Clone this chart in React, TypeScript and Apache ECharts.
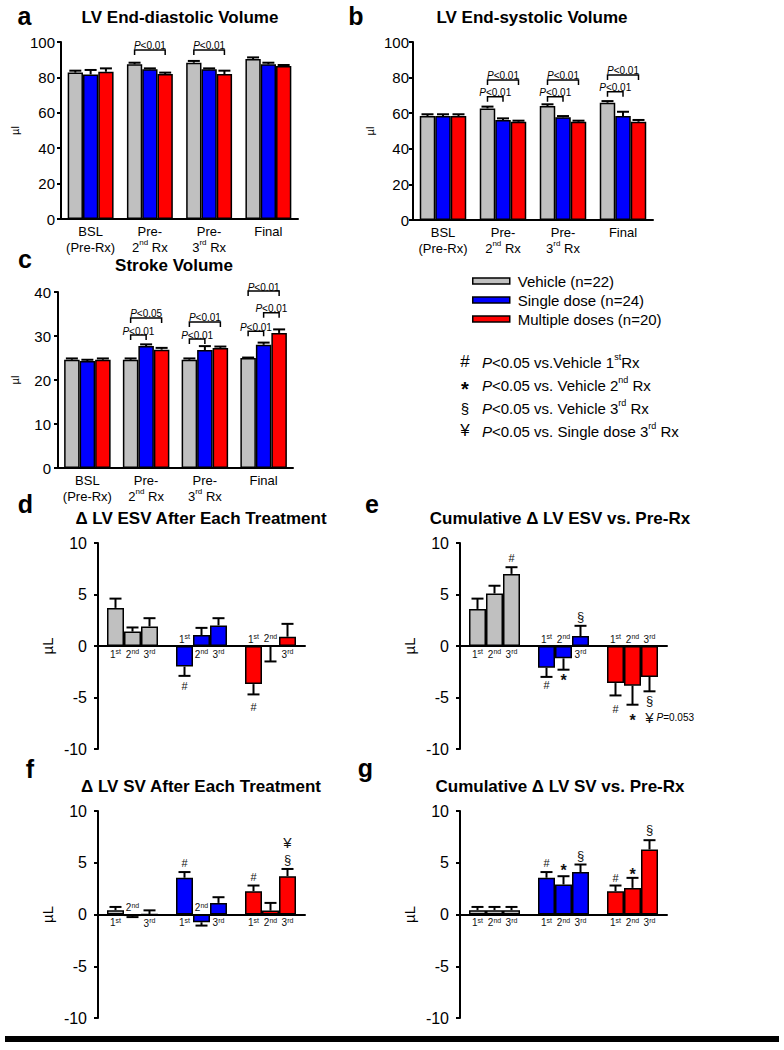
import React, { useEffect, useRef } from 'react';
import * as echarts from 'echarts';

const FONT = '"Liberation Sans", Arial, Helvetica, sans-serif';

// ---------- categories ----------
const TIME_POINTS = ['BSL\n(Pre-Rx)', 'Pre-\n2nd Rx', 'Pre-\n3rd Rx', 'Final'];
const GROUPS = ['Vehicle (n=22)', 'Single dose (n=24)', 'Multiple doses (n=20)'];
const GROUP_COLORS = ['#c0c0c0', '#0000ff', '#ff0000'];
const ORDINALS = ['1st', '2nd', '3rd'];

// ---------- a: LV end-diastolic volume (µl) ----------
const edvVehicle = [82.7, 87.4, 88.3, 90.4];
const edvSingle = [81.7, 84.6, 84.6, 87.4];
const edvMultiple = [83.2, 81.9, 81.9, 86.4];
const edvVehicleSem = [1.1, 0.9, 1.0, 0.9];
const edvSingleSem = [2.5, 0.5, 0.5, 0.9];
const edvMultipleSem = [1.9, 0.8, 1.9, 0.6];
// [timepoint, fromGroup, toGroup, level, label]
const edvBrackets = [
  [1, 0, 2, 95.5, 'P<0.01'],
  [2, 0, 2, 95.5, 'P<0.01'],
];

// ---------- b: LV end-systolic volume (µl) ----------
const esvVehicle = [58.4, 62.7, 64.0, 65.9];
const esvSingle = [58.4, 56.2, 57.7, 58.4];
const esvMultiple = [58.4, 55.2, 55.2, 55.2];
const esvVehicleSem = [1.0, 1.0, 1.0, 0.9];
const esvSingleSem = [1.0, 0.9, 0.7, 2.4];
const esvMultipleSem = [1.0, 0.6, 0.6, 1.0];
const esvBrackets = [
  [1, 0, 1, 69.3, 'P<0.01'],
  [1, 0, 2, 78.7, 'P<0.01'],
  [2, 0, 1, 69.3, 'P<0.01'],
  [2, 0, 2, 78.7, 'P<0.01'],
  [3, 0, 1, 72.1, 'P<0.01'],
  [3, 0, 2, 81.5, 'P<0.01'],
];

// ---------- c: stroke volume (µl) ----------
const svVehicle = [24.6, 24.6, 24.6, 25.0];
const svSingle = [24.3, 27.7, 26.8, 28.0];
const svMultiple = [24.6, 26.9, 27.3, 30.7];
const svVehicleSem = [0.3, 0.3, 0.3, 0.1];
const svSingleSem = [0.3, 0.4, 0.9, 0.5];
const svMultipleSem = [0.3, 0.4, 0.3, 0.8];
const svBrackets = [
  [1, 0, 1, 30.2, 'P<0.01'],
  [1, 0, 2, 34.1, 'P<0.05'],
  [2, 0, 1, 29.3, 'P<0.01'],
  [2, 0, 2, 33.2, 'P<0.01'],
  [3, 0, 1, 31.1, 'P<0.01'],
  [3, 1, 2, 35.3, 'P<0.01'],
  [3, 0, 2, 40.2, 'P<0.01'],
];

// ---------- d: Δ LV ESV after each treatment (µL), per group: 1st, 2nd, 3rd ----------
const dEsvVehicle = [3.7, 1.4, 1.9];
const dEsvSingle = [-2.0, 1.06, 2.0];
const dEsvMultiple = [-3.7, -0.05, 0.9];
const dEsvVehicleSem = [0.9, 0.4, 0.8];
const dEsvSingleSem = [0.9, 0.7, 0.7];
const dEsvMultipleSem = [1.0, 1.45, 1.25];
// [group, ordinal, level, text, dx?]
const dEsvMarks = [
  [1, 0, -3.85, '#'],
  [2, 0, -5.9, '#'],
];

// ---------- e: cumulative Δ LV ESV vs. Pre-Rx (µL) ----------
const cEsvVehicle = [3.6, 5.1, 7.0];
const cEsvSingle = [-2.1, -1.2, 0.96];
const cEsvMultiple = [-3.6, -3.85, -3.0];
const cEsvVehicleSem = [1.0, 0.75, 0.65];
const cEsvSingleSem = [0.9, 1.1, 1.0];
const cEsvMultipleSem = [1.2, 1.85, 1.4];
const cEsvMarks = [
  [0, 2, 8.5, '#'],
  [1, 0, -3.8, '#'],
  [1, 1, -3.0, '*'],
  [1, 2, 2.9, '§'],
  [2, 0, -6.15, '#'],
  [2, 1, -6.8, '*'],
  [2, 2, -5.3, '§'],
  [2, 2, -6.9, '¥'],
  [2, 2, -6.9, 'P=0.053', 7],
];

// ---------- f: Δ LV SV after each treatment (µL) ----------
const dSvVehicle = [0.42, -0.15, 0.02];
const dSvSingle = [3.55, -0.75, 1.12];
const dSvMultiple = [2.25, 0.38, 3.7];
const dSvVehicleSem = [0.31, 0.1, 0.38];
const dSvSingleSem = [0.55, 0.32, 0.55];
const dSvMultipleSem = [0.55, 0.74, 0.7];
const dSvMarks = [
  [1, 0, 5.0, '#'],
  [2, 0, 3.6, '#'],
  [2, 2, 5.3, '§'],
  [2, 2, 7.0, '¥'],
];

// ---------- g: cumulative Δ LV SV vs. Pre-Rx (µL) ----------
const cSvVehicle = [0.42, 0.42, 0.42];
const cSvSingle = [3.55, 2.9, 4.1];
const cSvMultiple = [2.25, 2.57, 6.28];
const cSvVehicleSem = [0.31, 0.31, 0.31];
const cSvSingleSem = [0.55, 0.8, 0.73];
const cSvMultipleSem = [0.55, 0.97, 0.9];
const cSvMarks = [
  [1, 0, 5.0, '#'],
  [1, 1, 4.67, '*'],
  [1, 2, 5.73, '§'],
  [2, 0, 3.48, '#'],
  [2, 1, 4.28, '*'],
  [2, 2, 8.2, '§'],
];

// ---------- text helpers ----------
function richLine(line: string): string {
  const out: string[] = [];
  const re = /(\d)(st|nd|rd)/g;
  let last = 0;
  let m: RegExpExecArray | null;
  while ((m = re.exec(line))) {
    const before = line.slice(last, m.index + 1);
    if (before) out.push('{n|' + before + '}');
    out.push('{s|' + m[2] + '}');
    last = m.index + m[0].length;
  }
  const rest = line.slice(last);
  if (rest) out.push('{n|' + rest + '}');
  return out.join('');
}
const toRich = (t: string) => t.split('\n').map(richLine).join('\n');
const pText = (t: string) => '{i|P}' + richLine(t.slice(1));

function makeRich(fs: number, lh: number, supFs?: number, color = '#000') {
  const sf = supFs || Math.round(fs * 0.62);
  return {
    n: { fontSize: fs, fontFamily: FONT, color, lineHeight: lh, verticalAlign: 'bottom' },
    s: { fontSize: sf, fontFamily: FONT, color, lineHeight: sf, verticalAlign: 'top' },
    i: { fontSize: fs, fontFamily: FONT, color, lineHeight: lh, verticalAlign: 'bottom', fontStyle: 'italic' },
  };
}

const CAT_RICH = makeRich(13, 16, 8);
const SUB_RICH = makeRich(10, 11, 7, '#111');
const BR_RICH = makeRich(10, 11);
const KEY_RICH = makeRich(15, 18, 9);

// ---------- layout ----------
const GRIDS = [
  { left: 61, top: 42, width: 237, height: 177 },
  { left: 413, top: 42, width: 240, height: 178 },
  { left: 58, top: 292, width: 235, height: 176 },
  { left: 98, top: 543, width: 207, height: 206 },
  { left: 460, top: 543, width: 207, height: 206 },
  { left: 98, top: 811, width: 207, height: 207 },
  { left: 460, top: 811, width: 207, height: 207 },
];

function errorSeries(gi: number, items: number[][], bw: number) {
  return {
    type: 'custom',
    xAxisIndex: gi,
    yAxisIndex: gi,
    silent: true,
    z: 5,
    clip: false,
    data: items,
    encode: { x: 0, y: 2 },
    renderItem: (params: any, api: any) => {
      const cat = api.value(0);
      const slot = api.value(1);
      const p0 = api.coord([cat, api.value(2)]);
      const p1 = api.coord([cat, api.value(3)]);
      const x = p0[0] + (slot - 1) * bw;
      const st = { stroke: '#000', lineWidth: 2 };
      return {
        type: 'group',
        children: [
          { type: 'line', shape: { x1: x, y1: p0[1], x2: x, y2: p1[1] }, style: st },
          { type: 'line', shape: { x1: x - 6, y1: p1[1], x2: x + 6, y2: p1[1] }, style: st },
        ],
      };
    },
  };
}

function bracketSeries(gi: number, list: any[], bw: number) {
  return {
    type: 'custom',
    xAxisIndex: gi,
    yAxisIndex: gi,
    silent: true,
    z: 6,
    clip: false,
    data: list.map((b) => [b[0], b[3]]),
    encode: { x: 0, y: 1 },
    renderItem: (params: any, api: any) => {
      const b = list[params.dataIndex];
      const p = api.coord([api.value(0), api.value(1)]);
      const x1 = p[0] + (b[1] - 1) * bw;
      const x2 = p[0] + (b[2] - 1) * bw;
      const y = p[1];
      return {
        type: 'group',
        children: [
          {
            type: 'polyline',
            shape: { points: [[x1, y + 5], [x1, y], [x2, y], [x2, y + 5]] },
            style: { stroke: '#000', lineWidth: 1.5, fill: null },
          },
          {
            type: 'text',
            style: {
              text: pText(b[4]),
              x: (x1 + x2) / 2,
              y: y + 1,
              align: 'center',
              verticalAlign: 'bottom',
              rich: BR_RICH,
            },
          },
        ],
      };
    },
  };
}

const MARK_SIZE: Record<string, number> = { '#': 11, '*': 16, '§': 13, '¥': 15 };

function markSeries(gi: number, list: any[], bw: number) {
  return {
    type: 'custom',
    xAxisIndex: gi,
    yAxisIndex: gi,
    silent: true,
    z: 6,
    clip: false,
    data: list.map((m) => [m[0], m[2]]),
    encode: { x: 0, y: 1 },
    renderItem: (params: any, api: any) => {
      const m = list[params.dataIndex];
      const p = api.coord([api.value(0), api.value(1)]);
      const x = p[0] + (m[1] - 1) * bw;
      const txt: string = m[3];
      if (m[4] !== undefined) {
        return {
          type: 'text',
          style: { text: pText(txt), x: x + m[4], y: p[1], align: 'left', verticalAlign: 'middle', rich: BR_RICH },
        };
      }
      const fs = MARK_SIZE[txt] || 12;
      const dy = txt === '*' ? fs * 0.25 : 0;
      return {
        type: 'text',
        style: {
          text: txt,
          x,
          y: p[1] + dy,
          align: 'center',
          verticalAlign: 'middle',
          fontSize: fs,
          fontFamily: FONT,
          fontWeight: txt === '*' ? 'bold' : 'normal',
          fill: '#111',
        },
      };
    },
  };
}

function groupedSeries(gi: number, vals: number[][], sems: number[][], brackets: any[], bw: number) {
  const s: any[] = vals.map((v, k) => ({
    type: 'bar',
    name: GROUPS[k],
    xAxisIndex: gi,
    yAxisIndex: gi,
    data: v,
    barWidth: bw,
    barGap: '0%',
    z: 2,
    itemStyle: { color: GROUP_COLORS[k], borderColor: '#000', borderWidth: 1.5 },
  }));
  const errs: number[][] = [];
  vals.forEach((v, k) => v.forEach((val, c) => errs.push([c, k, val, val + sems[k][c]])));
  s.push(errorSeries(gi, errs, bw));
  s.push(bracketSeries(gi, brackets, bw));
  return s;
}

function deltaSeries(gi: number, vals: number[][], sems: number[][], marks: any[], bw: number) {
  const s: any[] = ORDINALS.map((o, k) => ({
    type: 'bar',
    name: o,
    xAxisIndex: gi,
    yAxisIndex: gi,
    barWidth: bw,
    barGap: '0%',
    z: 2,
    data: vals.map((gv, g) => ({
      value: gv[k],
      itemStyle: { color: GROUP_COLORS[g] },
      label: { position: gv[k] < 0 ? 'top' : 'bottom' },
    })),
    itemStyle: { borderColor: '#000', borderWidth: 1.5 },
    label: { show: true, formatter: richLine(o), distance: 2, rich: SUB_RICH },
  }));
  const errs: number[][] = [];
  vals.forEach((gv, g) =>
    gv.forEach((val, k) => errs.push([g, k, val, val + (val < 0 ? -1 : 1) * sems[g][k]]))
  );
  s.push(errorSeries(gi, errs, bw));
  s.push(markSeries(gi, marks, bw));
  return s;
}

function yAxisCfg(gi: number, min: number, max: number, interval: number, fs: number, margin: number, name: string, nameFs: number, nameGap: number) {
  return {
    type: 'value',
    gridIndex: gi,
    min,
    max,
    interval,
    axisLine: { show: true, onZero: false, lineStyle: { color: '#000', width: 2 } },
    axisTick: { show: true, length: 4, lineStyle: { color: '#000', width: 2 } },
    splitLine: { show: false },
    axisLabel: { fontSize: fs, fontFamily: FONT, color: '#000', margin },
    name,
    nameLocation: 'middle',
    nameRotate: 90,
    nameGap,
    nameTextStyle: { fontSize: nameFs, fontFamily: FONT, color: '#000' },
  };
}

function catAxisCfg(gi: number) {
  return {
    type: 'category',
    gridIndex: gi,
    data: TIME_POINTS,
    axisTick: { show: false },
    axisLine: { lineStyle: { color: '#000', width: 2 } },
    axisLabel: { interval: 0, margin: 3, formatter: (v: string) => toRich(v), rich: CAT_RICH },
  };
}

function groupAxisCfg(gi: number) {
  return {
    type: 'category',
    gridIndex: gi,
    data: GROUPS,
    axisTick: { show: false },
    axisLabel: { show: false },
    axisLine: { onZero: true, lineStyle: { color: '#000', width: 2 } },
  };
}

function textEl(text: string, x: number, y: number, fs: number, bold: boolean, align = 'center') {
  return {
    type: 'text',
    silent: true,
    style: {
      text,
      x,
      y,
      align,
      verticalAlign: 'middle',
      fontSize: fs,
      fontWeight: bold ? 'bold' : 'normal',
      fontFamily: FONT,
      fill: '#000',
    },
  };
}

function richEl(text: string, x: number, y: number) {
  return {
    type: 'text',
    silent: true,
    style: { text, x, y, align: 'left', verticalAlign: 'middle', rich: KEY_RICH },
  };
}

function buildOption() {
  const series = [
    ...groupedSeries(0, [edvVehicle, edvSingle, edvMultiple], [edvVehicleSem, edvSingleSem, edvMultipleSem], edvBrackets, 15.3),
    ...groupedSeries(1, [esvVehicle, esvSingle, esvMultiple], [esvVehicleSem, esvSingleSem, esvMultipleSem], esvBrackets, 15.5),
    ...groupedSeries(2, [svVehicle, svSingle, svMultiple], [svVehicleSem, svSingleSem, svMultipleSem], svBrackets, 15.5),
    ...deltaSeries(3, [dEsvVehicle, dEsvSingle, dEsvMultiple], [dEsvVehicleSem, dEsvSingleSem, dEsvMultipleSem], dEsvMarks, 17),
    ...deltaSeries(4, [cEsvVehicle, cEsvSingle, cEsvMultiple], [cEsvVehicleSem, cEsvSingleSem, cEsvMultipleSem], cEsvMarks, 17),
    ...deltaSeries(5, [dSvVehicle, dSvSingle, dSvMultiple], [dSvVehicleSem, dSvSingleSem, dSvMultipleSem], dSvMarks, 17),
    ...deltaSeries(6, [cSvVehicle, cSvSingle, cSvMultiple], [cSvVehicleSem, cSvSingleSem, cSvMultipleSem], cSvMarks, 17),
  ];

  const graphic: any[] = [
    // panel letters
    textEl('a', 24.5, 16, 25, true),
    textEl('b', 356, 16, 25, true),
    textEl('c', 25, 259, 25, true),
    textEl('d', 25.5, 504, 25, true),
    textEl('e', 372, 504, 25, true),
    textEl('f', 30, 769, 25, true),
    textEl('g', 365.5, 768, 25, true),
    // titles
    textEl('LV End-diastolic Volume', 180, 17, 17, true),
    textEl('LV End-systolic Volume', 532, 17, 17, true),
    textEl('Stroke Volume', 174, 265, 17, true),
    textEl('Δ LV ESV After Each Treatment', 201, 518.5, 17, true),
    textEl('Cumulative Δ LV ESV vs. Pre-Rx', 560, 518.5, 17, true),
    textEl('Δ LV SV After Each Treatment', 201, 786, 17, true),
    textEl('Cumulative Δ LV SV vs. Pre-Rx', 560, 786, 17, true),
    // significance key
    textEl('#', 465, 361, 17, false),
    textEl('*', 465, 389, 20, true),
    textEl('§', 465, 408, 15, false),
    textEl('¥', 465, 430, 17, false),
    richEl('{i|P}' + richLine('<0.05 vs.Vehicle 1st') + '{n|Rx}', 482, 361),
    richEl('{i|P}' + richLine('<0.05 vs. Vehicle 2nd Rx'), 482, 384),
    richEl('{i|P}' + richLine('<0.05 vs. Vehicle 3rd Rx'), 482, 407),
    richEl('{i|P}' + richLine('<0.05 vs. Single dose 3rd Rx'), 482, 430),
    // bottom rule
    { type: 'rect', silent: true, shape: { x: 5, y: 1036, width: 774, height: 6 }, style: { fill: '#000' } },
  ];

  return {
    animation: false,
    backgroundColor: '#fff',
    textStyle: { fontFamily: FONT },
    grid: GRIDS.map((g) => ({ ...g, containLabel: false, outerBoundsMode: 'none' })),
    xAxis: [catAxisCfg(0), catAxisCfg(1), catAxisCfg(2), groupAxisCfg(3), groupAxisCfg(4), groupAxisCfg(5), groupAxisCfg(6)],
    yAxis: [
      yAxisCfg(0, 0, 100, 20, 15, 6, 'µl', 11, 41),
      yAxisCfg(1, 0, 100, 20, 15, 4, 'µl', 11, 38),
      yAxisCfg(2, 0, 40, 10, 15, 7, 'µl', 11, 38),
      yAxisCfg(3, -10, 10, 5, 16, 11, 'µL', 15, 43),
      yAxisCfg(4, -10, 10, 5, 16, 11, 'µL', 15, 43),
      yAxisCfg(5, -10, 10, 5, 16, 11, 'µL', 15, 43),
      yAxisCfg(6, -10, 10, 5, 16, 11, 'µL', 15, 43),
    ],
    legend: {
      data: GROUPS,
      orient: 'vertical',
      left: 472,
      top: 271.5,
      padding: 0,
      itemWidth: 37,
      itemHeight: 6,
      itemGap: 0,
      icon: 'rect',
      selectedMode: false,
      itemStyle: { borderColor: '#000', borderWidth: 1.5 },
      textStyle: { fontSize: 15, fontFamily: FONT, color: '#000', lineHeight: 19, padding: [0, 0, 0, 3] },
    },
    series,
    graphic,
  };
}

export default function App() {
  const ref = useRef<HTMLDivElement>(null);
  useEffect(() => {
    if (!ref.current) return;
    const chart = echarts.init(ref.current, undefined, { renderer: 'svg' });
    chart.setOption(buildOption() as any);
    return () => chart.dispose();
  }, []);
  return (
    <div
      ref={ref}
      style={{ position: 'absolute', left: 0, top: 0, width: 784, height: 1050, background: '#fff' }}
    />
  );
}
